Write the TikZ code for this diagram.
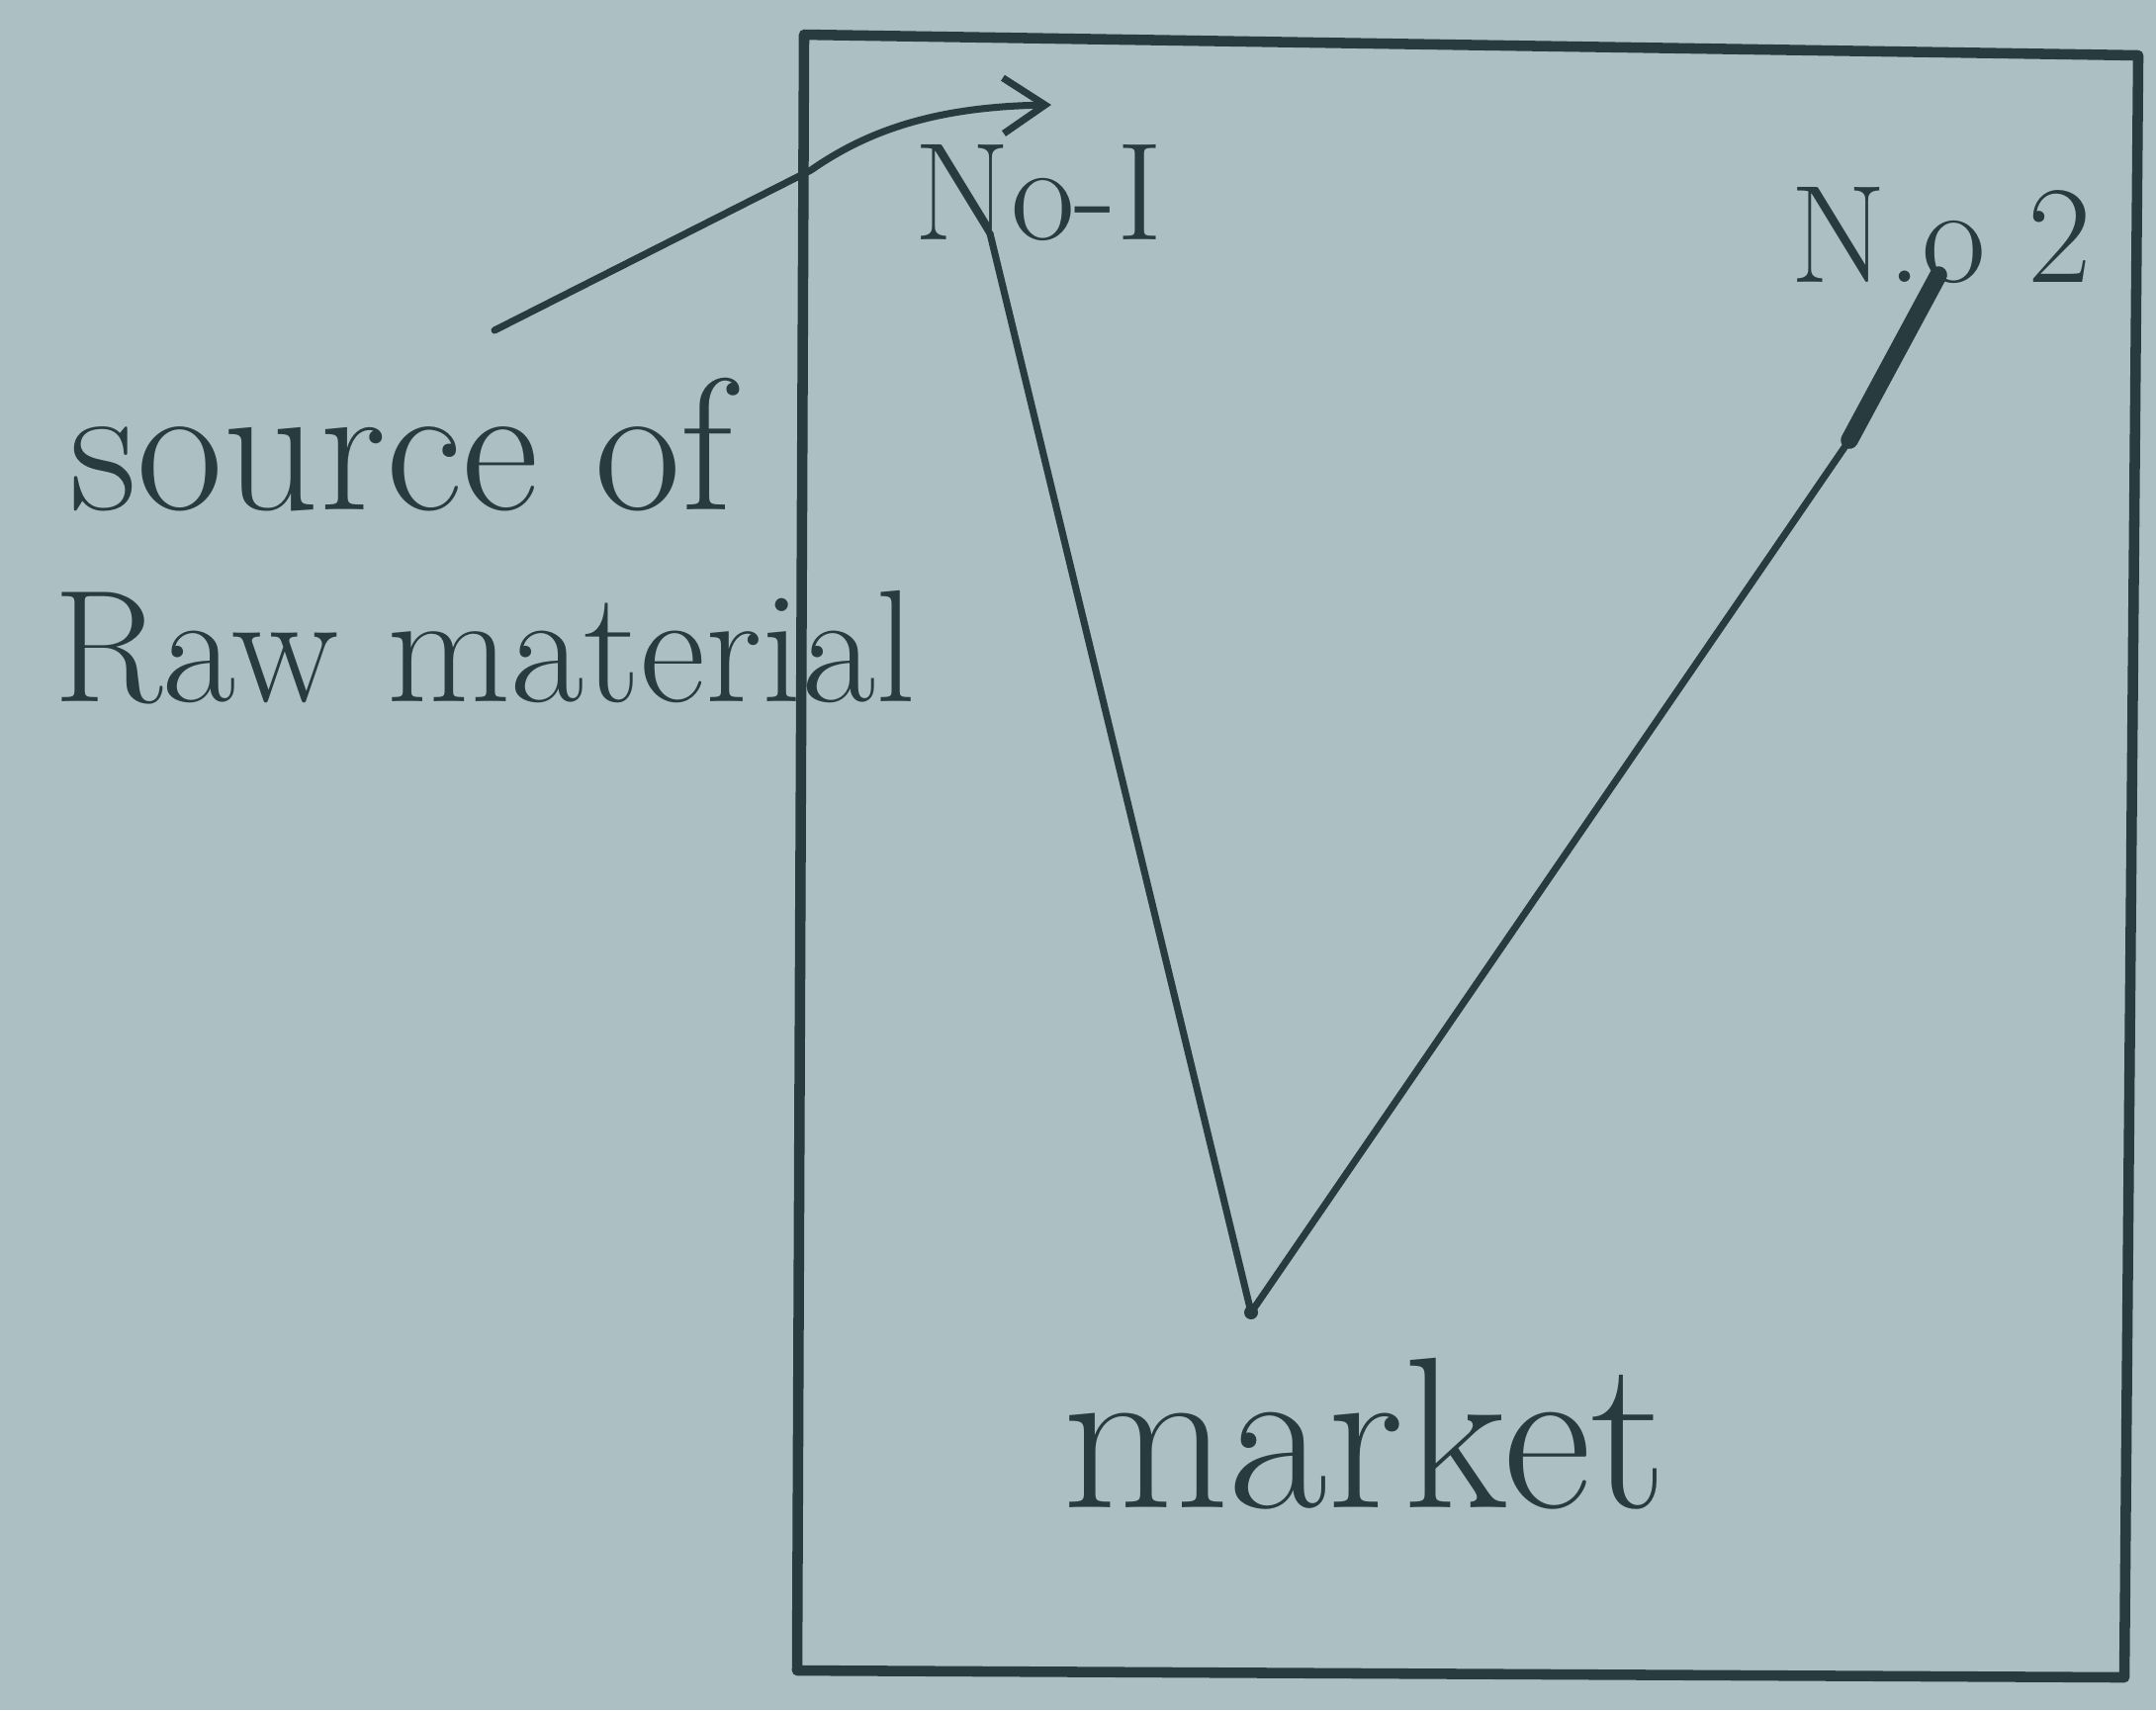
\documentclass[tikz,border=0pt]{standalone}
\usetikzlibrary{arrows.meta}
\definecolor{paper}{RGB}{172,192,195}
\definecolor{ink}{RGB}{40,60,64}
\tikzset{inkline/.style={draw=ink, line width=2pt, line cap=round, line join=round},
  handtext/.style={text=ink, inner sep=0pt, anchor=center}}

\begin{document}
\begin{tikzpicture}[x=0.01cm, y=-0.01cm]
  \fill[paper] (0,0) rectangle (2180,1729);
  \useasboundingbox (0,0) rectangle (2180,1729);
  \draw[inkline, line width=3pt] (813,35) -- (2162,56) -- (2148,1696) -- (806,1689) -- cycle; % frame
  \coordinate (plant1) at (1001,236);
  \coordinate (plant2) at (1960,278);
  \coordinate (mkt) at (1265,1327);
  \coordinate (bend) at (1870,445);
  \draw[inkline] (plant1) -- (mkt) -- (bend);
  \draw[inkline, line width=5pt] (bend) -- (plant2);
  \fill[ink] (mkt) circle (7);
  \node[handtext, font=\fontsize{40}{48}\selectfont] (lblone) at (1050,195) {No-I};
  \node[handtext, font=\fontsize{40}{48}\selectfont] (lbltwo) at (1963,238) {N.o 2};
  \node[handtext, font=\fontsize{62}{72}\selectfont] (lblmkt) at (1380,1450) {market};
  \node[handtext, font=\fontsize{54}{64}\selectfont] (lblsrc) at (406,450) {source of};
  \node[handtext, font=\fontsize{46}{56}\selectfont] (lblraw) at (490,655) {Raw material};
  \coordinate (tail) at (500,334);
  \draw[inkline, -{Straight Barb[length=12pt, width=16pt]}] (tail) -- (820,172) .. controls (880,130) and (950,108) .. (1063,106);
\end{tikzpicture}
\end{document}
